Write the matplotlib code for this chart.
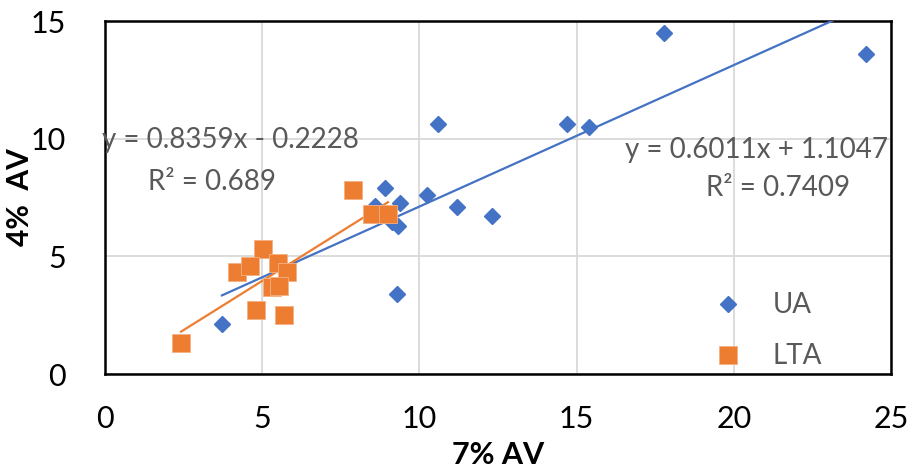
import matplotlib
matplotlib.use("Agg")
import matplotlib.pyplot as plt
import numpy as np

plt.rcParams['font.family'] = ['Lato', 'DejaVu Sans']

# UA samples (7% AV vs 4% AV)
ua_x = [3.72, 8.91, 8.59, 9.38, 10.24, 9.13, 9.32, 9.29, 10.59, 14.69, 15.39, 11.20, 12.30, 17.78, 24.20]
ua_y = [2.12, 7.90, 7.15, 7.25, 7.60, 6.45, 6.30, 3.42, 10.62, 10.62, 10.50, 7.10, 6.71, 14.49, 13.60]

# LTA samples
lta_x = [2.42, 4.80, 5.69, 7.89, 8.49, 9.00, 5.03, 4.20, 4.61, 5.50, 5.79, 5.31, 5.55]
lta_y = [1.32, 2.72, 2.51, 7.82, 6.80, 6.80, 5.30, 4.35, 4.58, 4.72, 4.35, 3.70, 3.75]

# Linear trendlines
ua_slope, ua_intercept, ua_r2 = 0.6011, 1.1047, 0.7409
lta_slope, lta_intercept, lta_r2 = 0.8359, -0.2228, 0.689

blue = '#4472C4'
orange = '#ED7D31'
gray_text = '#595959'

fig = plt.figure(figsize=(9.09, 4.72), dpi=100)
ax = fig.add_axes([0.1155, 0.2076, 0.8647, 0.7479])

ax.set_xlim(0, 25)
ax.set_ylim(0, 15)
ax.set_xticks([0, 5, 10, 15, 20, 25])
ax.set_yticks([0, 5, 10, 15])
ax.grid(True, color='#D9D9D9', linewidth=1.3, zorder=0)
ax.set_axisbelow(True)
for s in ax.spines.values():
    s.set_color('black')
    s.set_linewidth(1.8)
ax.tick_params(length=0, labelsize=22)
ax.tick_params(axis='x', pad=22)
ax.tick_params(axis='y', pad=28)

# trendlines over each series' x range
ux = np.array([min(ua_x), max(ua_x)])
lx = np.array([min(lta_x), max(lta_x)])
ax.plot(ux, ua_slope * ux + ua_intercept, color=blue, linewidth=1.6, zorder=3)
ax.plot(lx, lta_slope * lx + lta_intercept, color=orange, linewidth=1.6, zorder=3)

ax.plot(ua_x, ua_y, linestyle='none', marker='D', markersize=8.6, color=blue,
        markeredgecolor=blue, label='UA', zorder=4, clip_on=False)
ax.plot(lta_x, lta_y, linestyle='none', marker='s', markersize=12.5, color=orange,
        markeredgecolor='#F6B183', markeredgewidth=0.6, label='LTA', zorder=5)

ax.text(-0.08, 9.95, f'y = {lta_slope}x - {abs(lta_intercept)}', fontsize=20,
        color=gray_text, ha='left', va='center', zorder=6)
ax.text(3.4, 8.15, f'R² = {lta_r2}', fontsize=20, color=gray_text,
        ha='center', va='center', zorder=6)
ax.text(24.9, 9.5, f'y = {ua_slope}x + {ua_intercept}', fontsize=20,
        color=gray_text, ha='right', va='center', zorder=6)
ax.text(23.7, 7.9, f'R² = {ua_r2}', fontsize=20, color=gray_text,
        ha='right', va='center', zorder=6)

leg = ax.legend(loc='lower right', bbox_to_anchor=(0.937, -0.042), frameon=False,
                fontsize=20, labelcolor=gray_text, handletextpad=0.6,
                labelspacing=0.9, borderaxespad=0.3)

ax.set_xlabel('7% AV', fontsize=22, fontweight='bold', va='center')
ax.xaxis.set_label_coords(0.5, -0.229)
ax.set_ylabel('4%  AV', fontsize=21.5, fontweight='bold', va='center')
ax.yaxis.set_label_coords(-0.108, 0.50)

fig.savefig('out.png', dpi=100)
